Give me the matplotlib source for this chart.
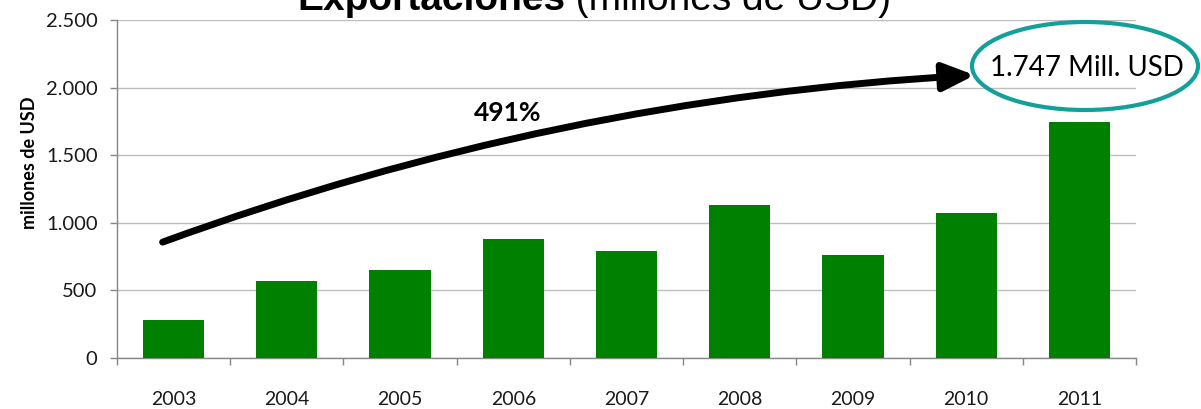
import matplotlib
matplotlib.use("Agg")
import matplotlib.pyplot as plt
from matplotlib.patches import Ellipse, FancyArrowPatch
from matplotlib.ticker import FixedLocator

plt.rcParams['font.family'] = ['Lato', 'DejaVu Sans']

years = ["2003", "2004", "2005", "2006", "2007", "2008", "2009", "2010", "2011"]
exports = [283, 572, 654, 878, 789, 1130, 759, 1071, 1747]
ytick_values = [0, 500, 1000, 1500, 2000, 2500]
ytick_labels = ["0", "500", "1.000", "1.500", "2.000", "2.500"]
growth_label = "491%"
highlight_label = "1.747 Mill. USD"

W, H = 1201, 409
fig = plt.figure(figsize=(W / 100, H / 100), dpi=100)
ax = fig.add_axes([117 / W, 51 / H, (1136 - 117) / W, (358 - 20) / H])

x = list(range(len(years)))
ax.bar(x, exports, width=0.54, color="#008000", zorder=3)

ax.set_xlim(-0.5, len(years) - 0.5)
ax.set_ylim(0, 2500)
ax.set_yticks(ytick_values)
ax.set_yticklabels(ytick_labels, fontsize=14.5, color="#1a1a1a")
ax.set_xticks(x)
ax.set_xticklabels(years, fontsize=14, color="#1a1a1a")
ax.xaxis.set_minor_locator(FixedLocator([i - 0.5 for i in range(len(years) + 1)]))
ax.tick_params(axis="x", which="major", length=0, pad=24)
ax.tick_params(axis="x", which="minor", length=5, color="#868686", width=1)
ax.tick_params(axis="y", length=5, color="#868686", width=1, pad=9)

ax.grid(axis="y", color="#BEBEBE", linewidth=1.0, zorder=0)
for s in ["top", "right"]:
    ax.spines[s].set_visible(False)
for s in ["left", "bottom"]:
    ax.spines[s].set_color("#868686")
    ax.spines[s].set_linewidth(1.0)

ax.set_ylabel("millones de USD", fontsize=13, fontweight="bold")
ax.yaxis.set_label_coords(-0.078, 0.578)

# title (clipped at top)
title_font = ["Liberation Sans", "DejaVu Sans"]
t1 = fig.text(297 / W, 1 - 10 / H, "Exportaciones", fontsize=28, fontweight="bold",
              ha="left", va="baseline", family=title_font)
fig.canvas.draw()
bb = t1.get_window_extent()
fig.text(bb.x1 / W, 1 - 10 / H, " (millones de USD)", fontsize=28,
         ha="left", va="baseline", family=title_font)

# growth arrow
arrow = FancyArrowPatch((-0.12, 850), (7.1, 2093),
                        connectionstyle="arc3,rad=-0.075",
                        arrowstyle="-|>,head_length=0.95,head_width=0.42",
                        mutation_scale=20, linewidth=5, color="black",
                        zorder=5, clip_on=False)
ax.add_patch(arrow)
ax.text(2.95, 1812, growth_label, fontsize=19, fontweight="bold",
        ha="center", va="center", zorder=6)

# highlighted value
ell = Ellipse((1085 / W, 1 - 66 / H), 226 / W, 88 / H, transform=fig.transFigure,
              fill=False, edgecolor="#14A09A", linewidth=3, zorder=10)
fig.add_artist(ell)
fig.text(1087 / W, 1 - 68 / H, highlight_label, fontsize=20, ha="center",
         va="center", color="black")

fig.savefig("out.png", dpi=100)
